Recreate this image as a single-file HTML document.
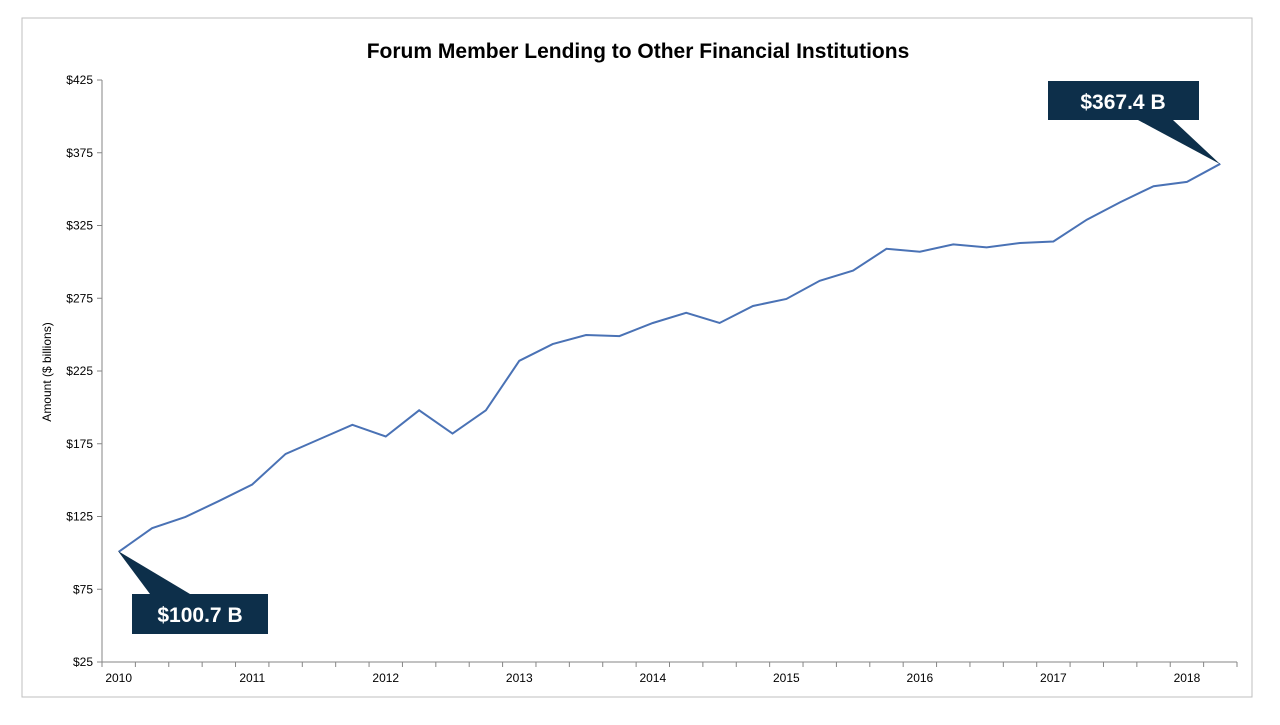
<!DOCTYPE html>
<html><head><meta charset="utf-8"><style>
body{margin:0;background:#fff;font-family:"Liberation Sans",Arial,sans-serif}
svg text{font-family:"Liberation Sans",Arial,sans-serif}
</style></head><body>
<svg width="1280" height="720" xmlns="http://www.w3.org/2000/svg">
<rect x="22" y="18" width="1230" height="679" fill="#fff" stroke="#bfbfbf"/>
<text x="638" y="58" text-anchor="middle" font-size="21" font-weight="bold" fill="#000">Forum Member Lending to Other Financial Institutions</text>
<text transform="translate(51,372) rotate(-90)" text-anchor="middle" font-size="12" fill="#000">Amount ($ billions)</text>
<g id="axes"></g>
<g id="series"></g>
<polygon points="118,551 190,594 150,594" fill="#0d2f4a"/>
<rect x="132" y="594" width="136" height="40" fill="#0d2f4a"/>
<text x="200" y="622" text-anchor="middle" font-size="21" font-weight="bold" fill="#fff">$100.7 B</text>
<polygon points="1220,164 1173,120 1138,120" fill="#0d2f4a"/>
<rect x="1048" y="81" width="151" height="39" fill="#0d2f4a"/>
<text x="1123" y="109" text-anchor="middle" font-size="21" font-weight="bold" fill="#fff">$367.4 B</text>
</svg>
<script>
const values=[100.7,117,124.7,135.6,147,168,178,188,180,198,182,198,232,243.5,249.7,249,258,265,258,269.7,274.5,287,294,309,307,312,310,313,314,329,341,352,355,367.4];
const yTicks=[25,75,125,175,225,275,325,375,425];
const yearLabels=["2010","2011","2012","2013","2014","2015","2016","2017","2018"];
const NS="http://www.w3.org/2000/svg";
const L=102,R=1237,T=80,B=662,ymin=25,ymax=425,n=values.length;
const step=(R-L)/n;
const xs=i=>L+step*(i+0.5);
const ys=v=>B-(v-ymin)/(ymax-ymin)*(B-T);
const ax=document.getElementById('axes'),se=document.getElementById('series');
function mk(tag,attrs,p){const e=document.createElementNS(NS,tag);for(const k in attrs)e.setAttribute(k,attrs[k]);p.appendChild(e);return e;}
let yl=mk('line',{x1:L,y1:T,x2:L,y2:B,stroke:'#868686'},ax);


let xl=mk('line',{x1:L,y1:B,x2:R,y2:B,stroke:'#868686'},ax);


yTicks.forEach(v=>{
 mk('line',{x1:L-5,y1:ys(v),x2:L,y2:ys(v),stroke:'#868686'},ax);
 const t=mk('text',{x:L-9,y:ys(v)+4,'text-anchor':'end','font-size':12,fill:'#000'},ax);
 t.textContent='$'+v;
 
 
});
for(let i=0;i<=n;i++){mk('line',{x1:L+step*i,y1:B,x2:L+step*i,y2:B+5,stroke:'#868686'},ax);}
yearLabels.forEach((lab,k)=>{
 const t=mk('text',{x:xs(k*4),y:B+20,'text-anchor':'middle','font-size':12,fill:'#000'},ax);
 t.textContent=lab;
 
 
});
const line=mk('polyline',{points:values.map((v,i)=>xs(i)+','+ys(v)).join(' '),fill:'none',stroke:'#4a72b5','stroke-width':2},se);


</script>
</body></html>
